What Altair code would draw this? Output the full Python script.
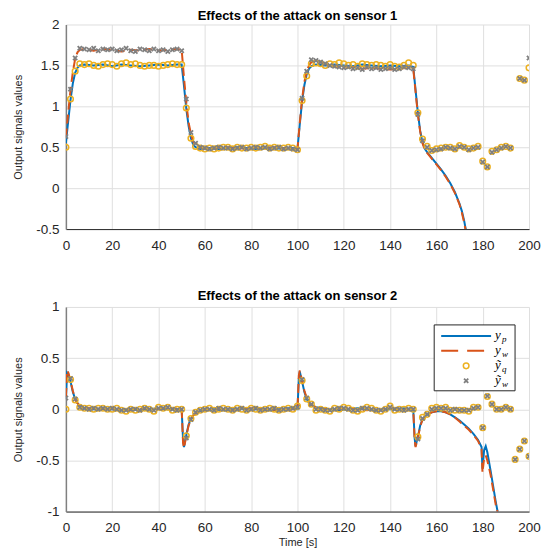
import altair as alt
import pandas as pd

# ---------------- data ----------------
t_marks = list(range(0, 201, 2))
x_ticks = [0, 20, 40, 60, 80, 100, 120, 140, 160, 180, 200]
top_y_ticks = [-0.5, 0, 0.5, 1, 1.5, 2]
bot_y_ticks = [-1, -0.5, 0, 0.5, 1]

# sensor 1 : continuous signals (breakpoints)
top_t = ([0, 1, 2, 3, 4, 5, 6, 8]
         + [12, 16, 20, 24, 28, 32, 36, 40, 44, 48]
         + [50, 51, 52, 53, 54, 55, 56, 58]
         + [62, 66, 70, 74, 78, 82, 86, 90, 94, 98]
         + [100, 101, 102, 103, 104, 105, 106, 108]
         + [112, 116, 120, 124, 128, 132, 136, 140, 144, 148]
         + [150, 151, 152, 153, 154, 155, 156, 158, 160, 162, 164, 166, 168, 170, 171, 172, 173, 174])
top_yp = ([0.55, 0.82, 1.08, 1.28, 1.41, 1.47, 1.50, 1.51]
          + [1.50, 1.51, 1.49, 1.51, 1.50, 1.49, 1.50, 1.51, 1.50, 1.51]
          + [1.51, 1.25, 0.97, 0.76, 0.61, 0.53, 0.50, 0.48]
          + [0.49, 0.48, 0.49, 0.50, 0.49, 0.48, 0.50, 0.49, 0.48, 0.49]
          + [0.48, 0.78, 1.06, 1.26, 1.39, 1.46, 1.49, 1.51]
          + [1.50, 1.51, 1.50, 1.49, 1.51, 1.50, 1.49, 1.50, 1.49, 1.50]
          + [1.48, 1.20, 0.92, 0.70, 0.56, 0.48, 0.44, 0.37, 0.30, 0.23, 0.15, 0.06, -0.05, -0.19, -0.28, -0.40, -0.55, -0.70])
top_yw = ([0.62, 0.92, 1.20, 1.42, 1.58, 1.66, 1.69, 1.70]
          + [1.68, 1.70, 1.69, 1.67, 1.69, 1.68, 1.70, 1.68, 1.69, 1.70]
          + [1.69, 1.35, 1.05, 0.80, 0.66, 0.57, 0.52, 0.49]
          + [0.48, 0.49, 0.50, 0.49, 0.48, 0.49, 0.49, 0.50, 0.49, 0.48]
          + [0.47, 0.80, 1.09, 1.30, 1.43, 1.50, 1.54, 1.55]
          + [1.52, 1.49, 1.47, 1.48, 1.46, 1.47, 1.46, 1.45, 1.46, 1.47]
          + [1.46, 1.18, 0.90, 0.69, 0.55, 0.47, 0.43, 0.36, 0.29, 0.22, 0.14, 0.05, -0.06, -0.20, -0.30, -0.42, -0.57, -0.72])

# sensor 1 : sampled measurements (every 2 s)
top_q = ([0.50, 1.09, 1.43, 1.52, 1.51, 1.52, 1.50, 1.49, 1.51, 1.52]
         + [1.51, 1.49, 1.52, 1.53, 1.51, 1.52, 1.50, 1.49, 1.50, 1.50]
         + [1.49, 1.50, 1.51, 1.52, 1.51, 1.51, 0.98, 0.61, 0.51, 0.49]
         + [0.48, 0.49, 0.48, 0.49, 0.50, 0.50, 0.48, 0.50, 0.49, 0.49]
         + [0.50, 0.49, 0.50, 0.51, 0.49, 0.50, 0.49, 0.49, 0.50, 0.49]
         + [0.47, 1.07, 1.37, 1.52, 1.53, 1.52, 1.50, 1.52, 1.51, 1.53]
         + [1.52, 1.50, 1.51, 1.49, 1.52, 1.51, 1.50, 1.51, 1.50, 1.49]
         + [1.51, 1.49, 1.48, 1.50, 1.53, 1.50, 0.92, 0.60, 0.51, 0.46]
         + [0.48, 0.49, 0.50, 0.50, 0.48, 0.52, 0.50, 0.48, 0.49, 0.51]
         + [0.33, 0.26, 0.45, 0.47, 0.50, 0.51, 0.49, None, 1.34, 1.32]
         + [1.47])
top_w = ([0.63, 1.21, 1.59, 1.71, 1.70, 1.69, 1.71, 1.68, 1.70, 1.69]
         + [1.70, 1.68, 1.69, 1.71, 1.68, 1.67, 1.70, 1.69, 1.68, 1.70]
         + [1.68, 1.69, 1.67, 1.69, 1.70, 1.68, 1.09, 0.68, 0.55, 0.50]
         + [0.49, 0.48, 0.49, 0.50, 0.49, 0.49, 0.48, 0.49, 0.50, 0.48]
         + [0.49, 0.50, 0.49, 0.50, 0.48, 0.49, 0.50, 0.48, 0.49, 0.48]
         + [0.47, 1.10, 1.43, 1.57, 1.56, 1.54, 1.52, 1.50, 1.49, 1.48]
         + [1.47, 1.48, 1.46, 1.47, 1.45, 1.48, 1.46, 1.47, 1.45, 1.46]
         + [1.47, 1.45, 1.46, 1.48, 1.47, 1.46, 0.90, 0.58, 0.50, 0.46]
         + [0.47, 0.48, 0.50, 0.49, 0.48, 0.51, 0.50, 0.47, 0.49, 0.50]
         + [0.32, 0.26, 0.44, 0.47, 0.49, 0.51, 0.49, None, 1.34, 1.32]
         + [1.59])

# sensor 2 : continuous signals (breakpoints)
bot_t = ([0, 0.5, 1, 2, 3, 4, 5, 6, 8]
         + [12, 16, 20, 24, 28, 32, 36, 40, 44, 48, 50]
         + [50.6, 51, 52, 53, 54, 55, 56, 58, 60]
         + [64, 68, 72, 76, 80, 84, 88, 92, 96, 100]
         + [100.6, 101, 102, 103, 104, 105, 106, 108, 110]
         + [114, 118, 122, 126, 130, 134, 138, 142, 146, 150]
         + [150.6, 151, 152, 153, 154, 156, 158, 160, 162, 164, 166, 168, 170, 172, 174, 176, 178,
            179.5, 179.9, 180.6, 181.3, 182, 183.4, 185.6, 186.6, 188])
bot_yp = ([0.10, 0.36, 0.35, 0.27, 0.17, 0.10, 0.06, 0.03, 0.01]
          + [0.00, 0.01, 0.00, -0.01, 0.00, -0.01, 0.00, 0.01, 0.00, 0.00, 0.00]
          + [-0.30, -0.37, -0.25, -0.15, -0.09, -0.06, -0.04, -0.02, -0.01]
          + [0.00, -0.01, 0.00, 0.01, 0.00, 0.00, -0.01, 0.00, 0.01, 0.00]
          + [0.30, 0.37, 0.27, 0.17, 0.10, 0.06, 0.04, 0.02, 0.01]
          + [0.00, -0.01, 0.00, 0.01, 0.00, -0.01, 0.00, 0.00, 0.01, 0.00]
          + [-0.28, -0.36, -0.27, -0.16, -0.10, -0.05, -0.03, -0.02, -0.02, -0.03, -0.05, -0.08, -0.11,
             -0.15, -0.19, -0.24, -0.30, -0.37, -0.58, -0.40, -0.36, -0.42, -0.60, -0.90, -1.02, -1.25])
bot_yw = ([0.12, 0.38, 0.36, 0.28, 0.18, 0.10, 0.06, 0.03, 0.01]
          + [0.01, 0.00, 0.00, 0.00, -0.01, 0.00, 0.01, 0.00, 0.00, 0.01, 0.00]
          + [-0.33, -0.38, -0.26, -0.16, -0.10, -0.06, -0.04, -0.02, -0.01]
          + [0.00, 0.00, -0.01, 0.00, 0.01, 0.00, 0.00, -0.01, 0.00, 0.00]
          + [0.33, 0.38, 0.28, 0.18, 0.11, 0.06, 0.04, 0.02, 0.01]
          + [0.00, 0.00, 0.01, 0.00, -0.01, 0.00, 0.00, 0.01, 0.00, 0.00]
          + [-0.30, -0.37, -0.28, -0.17, -0.10, -0.05, -0.03, -0.02, -0.02, -0.03, -0.05, -0.08, -0.12,
             -0.16, -0.20, -0.25, -0.31, -0.39, -0.62, -0.48, -0.45, -0.50, -0.64, -0.93, -1.02, -1.25])

# sensor 2 : sampled measurements
bot_q = ([0.00, 0.29, 0.09, 0.02, 0.01, 0.01, 0.00, 0.01, 0.01, 0.00]
         + [0.00, 0.01, -0.01, -0.02, 0.00, -0.01, 0.00, 0.01, 0.00, -0.02]
         + [0.02, 0.01, 0.02, -0.01, 0.00, 0.00, -0.26, -0.09, -0.03, -0.01]
         + [0.00, 0.01, -0.01, 0.00, 0.01, 0.00, -0.01, 0.01, 0.00, -0.01]
         + [0.01, 0.00, -0.01, 0.00, 0.01, 0.00, -0.01, 0.00, 0.01, 0.00]
         + [0.03, 0.28, 0.10, 0.05, -0.01, 0.00, -0.01, -0.02, 0.01, 0.00]
         + [0.02, 0.01, -0.01, -0.02, 0.00, 0.02, 0.01, -0.01, -0.02, 0.00]
         + [0.03, -0.01, 0.00, 0.00, 0.01, 0.00, -0.27, -0.08, -0.05, 0.01]
         + [0.02, 0.01, 0.02, -0.01, -0.01, -0.01, -0.01, -0.02, 0.02, 0.02]
         + [-0.18, 0.125, 0.05, 0.00, 0.00, 0.02, 0.00, -0.49, -0.39, -0.31]
         + [-0.46])
bot_w = ([0.11, 0.30, 0.10, 0.02, 0.01, 0.00, 0.01, 0.00, 0.01, 0.00]
         + [0.01, 0.00, -0.01, -0.01, 0.00, 0.00, -0.01, 0.01, 0.00, -0.01]
         + [0.01, 0.01, 0.02, 0.00, -0.01, 0.00, -0.28, -0.10, -0.03, -0.01]
         + [0.00, 0.00, -0.01, 0.01, 0.00, 0.00, -0.01, 0.00, 0.01, -0.01]
         + [0.00, 0.01, -0.01, 0.00, 0.00, 0.01, -0.01, 0.00, 0.00, 0.01]
         + [0.02, 0.29, 0.11, 0.05, 0.00, 0.00, -0.01, -0.01, 0.00, 0.01]
         + [0.01, 0.00, -0.01, -0.01, 0.01, 0.01, 0.00, -0.01, -0.01, 0.00]
         + [0.02, 0.00, 0.00, -0.01, 0.00, 0.00, -0.29, -0.09, -0.05, 0.00]
         + [0.01, 0.01, 0.01, -0.01, 0.00, -0.01, -0.01, -0.01, 0.01, 0.02]
         + [-0.18, 0.13, 0.05, 0.00, 0.00, 0.02, 0.00, -0.49, -0.39, -0.31]
         + [-0.46])

legend_base = ["y", "y", "ỹ", "ỹ"]
legend_sub = ["p", "w", "q", "w"]

# ---------------- style ----------------
BLUE = "#0072BD"
ORANGE = "#D95319"
YELLOW = "#EDB120"
GRAY = "#7F7F7F"
FONT = "Liberation Sans"
W, H = 464, 205
X_SHAPE = "M-1,-1L1,1M-1,1L1,-1"


def make_panel(line_t, yp, yw, q, w, title, ydom, yticks, with_xtitle, with_legend, toff):
    lines = pd.DataFrame({"t": line_t, "yp": yp, "yw": yw})
    marks = pd.DataFrame({"t": t_marks, "q": q, "w": w})

    xkw = dict(values=x_ticks, grid=True, ticks=False, labelPadding=9,
               domainColor="#262626", domainWidth=1, labelFontSize=13.5,
               labelFont=FONT, labelColor="#262626", gridColor="#dfdfdf",
               labelFlush=False, labelExpr="toString(datum.value)")
    if with_xtitle:
        xkw.update(title="Time [s]", titleFont=FONT, titleFontSize=11,
                   titleFontWeight="normal", titleColor="#262626", titlePadding=3)
    else:
        xkw.update(title="")
    xax = alt.Axis(**xkw)
    yax = alt.Axis(values=yticks, grid=True, ticks=False, labelPadding=7,
                   domainColor="#808080", domainWidth=1.5, labelFontSize=13.5,
                   labelFont=FONT, labelColor="#262626", gridColor="#dfdfdf",
                   labelFlush=False, labelExpr="toString(datum.value)",
                   title="Output signals values", titleFont=FONT, titleFontSize=11,
                   titleFontWeight="normal", titleColor="#262626", titlePadding=12)
    xs = alt.Scale(domain=[0, 200], nice=False, zero=False)
    ys = alt.Scale(domain=ydom, nice=False, zero=False)

    def X():
        return alt.X("t:Q", scale=xs, axis=xax)

    def Y(f):
        return alt.Y(f + ":Q", scale=ys, axis=yax)

    l_p = alt.Chart(lines).mark_line(color=BLUE, strokeWidth=2, clip=True).encode(x=X(), y=Y("yp"))
    l_w = alt.Chart(lines).mark_line(color=ORANGE, strokeWidth=2, strokeDash=[9, 5], clip=True).encode(x=X(), y=Y("yw"))
    m_q = alt.Chart(marks).mark_point(shape="circle", filled=False, stroke=YELLOW, strokeWidth=1.5,
                                      size=32, opacity=1, clip=True).encode(x=X(), y=Y("q"))
    m_w = alt.Chart(marks).mark_point(shape=X_SHAPE, filled=False, stroke=GRAY, strokeWidth=1.8,
                                      size=18, opacity=1, clip=True).encode(x=X(), y=Y("w"))
    layers = [l_p, l_w, m_q, m_w]

    if with_legend:
        one = pd.DataFrame({"k": [0]})
        layers.append(alt.Chart(one).mark_rect(fill="white", stroke="#262626", strokeWidth=1).encode(
            x=alt.value(369), x2=alt.value(450), y=alt.value(18), y2=alt.value(84)))
        layers.append(alt.Chart(one).mark_rule(color=BLUE, strokeWidth=2).encode(
            x=alt.value(376), x2=alt.value(426), y=alt.value(29)))
        layers.append(alt.Chart(one).mark_rule(color=ORANGE, strokeWidth=2, strokeDash=[17, 9]).encode(
            x=alt.value(376), x2=alt.value(426), y=alt.value(44)))
        layers.append(alt.Chart(one).mark_point(shape="circle", filled=False, stroke=YELLOW, strokeWidth=1.5,
                                                size=32, opacity=1).encode(x=alt.value(401), y=alt.value(59)))
        layers.append(alt.Chart(one).mark_point(shape=X_SHAPE, filled=False, stroke=GRAY, strokeWidth=1.8,
                                                size=18, opacity=1).encode(x=alt.value(401), y=alt.value(74)))
        rows = [29, 44, 59, 74]
        for base, sub, ry in zip(legend_base, legend_sub, rows):
            layers.append(alt.Chart(one).mark_text(text=base, font="Liberation Serif", fontStyle="italic",
                                                   fontSize=13, align="left", baseline="middle",
                                                   color="black").encode(x=alt.value(430), y=alt.value(ry - 1)))
            layers.append(alt.Chart(one).mark_text(text=sub, font="Liberation Serif", fontStyle="italic",
                                                   fontSize=9, align="left", baseline="middle",
                                                   color="black").encode(x=alt.value(437), y=alt.value(ry + 3)))

    return alt.layer(*layers).properties(
        width=W, height=H,
        title=alt.TitleParams(title, font=FONT, fontSize=13, fontWeight="bold", color="black",
                              anchor="middle", offset=toff, frame="group"),
    )


top = make_panel(top_t, top_yp, top_yw, top_q, top_w, "Effects of the attack on sensor 1",
                 [-0.5, 2], top_y_ticks, False, False, -6)
bottom = make_panel(bot_t, bot_yp, bot_yw, bot_q, bot_w, "Effects of the attack on sensor 2",
                    [-1, 1], bot_y_ticks, True, True, -3)

chart = alt.vconcat(top, bottom, spacing=38).properties(
    padding={"left": 4, "top": 2, "right": 0, "bottom": 0},
    background="white",
).configure_view(stroke=None)

chart.save("out.html", embed_options={"renderer": "svg", "actions": False})
